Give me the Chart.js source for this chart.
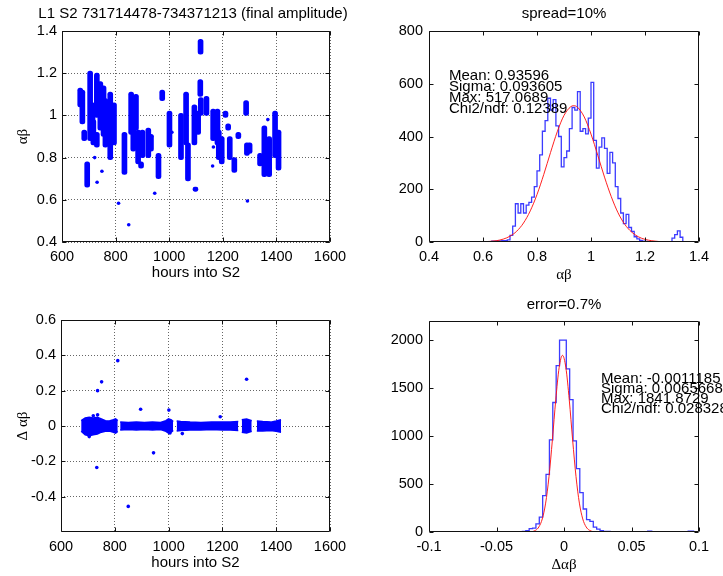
<!DOCTYPE html>
<html><head><meta charset="utf-8">
<script src="https://cdn.jsdelivr.net/npm/chart.js@4.4.0/dist/chart.umd.min.js"></script>
<style>
html,body{margin:0;padding:0;background:#fff;}
#wrap{position:relative;width:723px;height:576px;overflow:hidden;background:#fff;}
canvas{position:absolute;}
</style></head><body>
<div id="wrap">
<canvas id="tl" width="361" height="290" style="left:0px;top:0px"></canvas>
<canvas id="tr" width="362" height="290" style="left:361px;top:0px"></canvas>
<canvas id="bl" width="361" height="286" style="left:0px;top:290px"></canvas>
<canvas id="br" width="362" height="286" style="left:361px;top:290px"></canvas>
</div>
<script>
// ---------------- DATA ----------------
const tlTitle = 'L1 S2 731714478-734371213 (final amplitude)';
const trTitle = 'spread=10%';
const brTitle = 'error=0.7%';
const hoursLabel = 'hours into S2';

// top-left: vertical clusters of points (hours, low, high)
const tlStreakX  = [668, 676, 683, 694, 705, 714, 717, 730, 730, 743, 755, 762, 780, 794, 833, 858, 866, 876, 884, 900, 895, 922, 932, 960, 974, 1001, 1044, 1063, 1070, 1094, 1098, 1117, 1116, 1118, 1108, 1139, 1164, 1180, 1185, 1196, 1210, 1220, 1226, 1243, 1258, 1287, 1290, 1300, 1339, 1355, 1373, 1395, 1408];
const tlStreakLo = [1.04, 0.96, 0.88, 0.66, 0.88, 0.93, 0.86, 0.99, 0.85, 0.93, 0.90, 0.85, 0.79, 0.86, 0.72, 0.91, 0.83, 0.93, 0.77, 0.80, 0.75, 0.80, 0.83, 0.70, 1.07, 0.85, 0.79, 0.86, 0.69, 0.86, 0.64, 1.29, 1.09, 1.00, 0.91, 1.00, 0.88, 0.86, 0.79, 0.77, 0.99, 0.93, 0.79, 0.73, 0.89, 1.00, 0.81, 0.82, 0.76, 0.71, 0.71, 0.80, 0.74];
const tlStreakHi = [1.13, 1.12, 0.93, 0.78, 1.21, 1.06, 0.98, 1.20, 0.92, 1.16, 1.14, 1.08, 1.11, 1.06, 0.92, 1.11, 0.99, 1.10, 0.93, 0.93, 0.78, 0.94, 0.91, 0.82, 1.12, 1.02, 1.01, 1.11, 0.87, 1.05, 0.66, 1.36, 1.17, 1.085, 1.02, 1.09, 1.03, 1.03, 0.93, 0.90, 1.02, 0.96, 0.90, 0.80, 0.92, 1.07, 0.87, 0.87, 0.82, 0.95, 0.90, 1.02, 0.93];
// top-left: isolated points
const tlDotX = [811, 849, 946, 722, 731, 749, 762, 1292, 1368, 1162, 935, 1010, 1165, 1258];
const tlDotY = [0.584, 0.482, 0.631, 0.80, 0.683, 0.735, 0.86, 0.594, 0.98, 0.76, 0.90, 0.92, 0.85, 0.91];

// top-right: histogram (bin left edges, counts) and fitted curve
const trEdges  = [0.63,0.64,0.65,0.66,0.67,0.68,0.69,0.70,0.71,0.72,0.73,0.74,0.75,0.76,0.77,0.78,0.79,0.80,0.81,0.82,0.83,0.84,0.85,0.86,0.87,0.88,0.89,0.90,0.91,0.92,0.93,0.94,0.95,0.96,0.97,0.98,0.99,1.00,1.01,1.02,1.03,1.04,1.05,1.06,1.07,1.08,1.09,1.10,1.11,1.12,1.13,1.14,1.15,1.16,1.17,1.18,1.19,1.20,1.21,1.30,1.31,1.32,1.33,1.34];
const trCounts = [3,3,4,4,5,5,8,25,60,145,110,145,110,140,150,170,210,270,330,420,460,545,500,540,440,400,285,320,345,430,510,500,570,420,430,410,470,605,385,280,360,395,355,260,340,300,210,165,110,70,105,55,40,20,12,6,3,2,0,15,28,42,18,0];
const trFitX = [0.48, 0.55, 0.60, 0.65, 0.675, 0.70, 0.725, 0.75, 0.775, 0.80, 0.825, 0.85, 0.875, 0.90, 0.925, 0.936, 0.95, 0.975, 1.00, 1.025, 1.05, 1.075, 1.10, 1.125, 1.15, 1.175, 1.20, 1.25, 1.30];
const trFitY = [0, 0.3, 1, 5, 11, 22, 41, 72, 118, 180, 256, 339, 418, 480, 513, 517, 511, 474, 409, 329, 246, 172, 111, 67, 38, 20, 10, 2, 0];
const trStats = ['Mean: 0.93596', 'Sigma: 0.093605', 'Max: 517.0689', 'Chi2/ndf: 0.12389'];

// bottom-left: dense band around zero (edges), gaps marked with null, plus outliers
const blBandX  = [675, 690, 705, 720, 735, 750, 765, 780, 795, 803, 811, 814, 820, 850, 880, 910, 940, 970, 990, 1000, 1010, 1017, 1023, 1030, 1045, 1080, 1120, 1160, 1200, 1230, 1259, 1265, 1272, 1290, 1309, 1318, 1328, 1350, 1380, 1400, 1418];
const blBandHi = [0.03, 0.045, 0.05, 0.045, 0.05, 0.04, 0.03, 0.028, 0.035, 0.04, 0.03, null, 0.022, 0.02, 0.022, 0.02, 0.022, 0.02, 0.03, 0.04, 0.035, 0.025, null, 0.028, 0.025, 0.022, 0.02, 0.022, 0.022, 0.022, 0.025, null, 0.035, 0.04, 0.03, null, 0.028, 0.025, 0.022, 0.028, 0.035];
const blBandLo = [-0.03, -0.05, -0.055, -0.05, -0.045, -0.035, -0.03, -0.028, -0.035, -0.04, -0.03, null, -0.022, -0.02, -0.022, -0.02, -0.022, -0.02, -0.03, -0.04, -0.035, -0.025, null, -0.028, -0.025, -0.022, -0.022, -0.02, -0.022, -0.022, -0.025, null, -0.035, -0.04, -0.03, null, -0.028, -0.028, -0.025, -0.03, -0.035];
const blDotX = [736, 751, 811, 733, 850, 896, 944, 1001, 1192, 1290, 736, 1051, 705, 720, 1005];
const blDotY = [0.2, 0.25, 0.37, -0.235, -0.455, 0.095, -0.152, 0.09, 0.052, 0.265, 0.063, -0.043, -0.06, 0.058, -0.04];

// bottom-right: histogram (bin left edges, counts) and fitted curve
const brEdges  = [-0.0358, -0.0308, -0.0283, -0.0258, -0.0233, -0.0208, -0.0183, -0.0158, -0.0133, -0.0108, -0.0083, -0.0058, -0.0033, -0.0008, 0.0017, 0.0042, 0.0067, 0.0092, 0.0117, 0.0142, 0.0167, 0.0192, 0.0217, 0.0242, 0.0267, 0.0292, 0.0342, 0.0620, 0.0650, 0.0920, 0.0960];
const brCounts = [2, 6, 15, 35, 40, 85, 155, 380, 600, 960, 1350, 1735, 2000, 2000, 1700, 1380, 950, 660, 410, 240, 130, 110, 50, 30, 15, 5, 0, 8, 0, 10, 0];
const brFitX = [-0.058, -0.031, -0.026, -0.021, -0.0186, -0.0161, -0.0136, -0.0111, -0.0086, -0.0061, -0.0036, -0.0011, 0.0014, 0.0039, 0.0064, 0.0089, 0.0114, 0.0139, 0.0164, 0.0189, 0.0239, 0.0289, 0.054];
const brFitY = [0, 0, 1, 18, 53, 136, 301, 578, 960, 1378, 1713, 1842, 1713, 1378, 960, 578, 301, 136, 53, 18, 1, 0, 0];
const brStats = ['Mean: -0.0011185', 'Sigma: 0.0065668', 'Max: 1841.8729', 'Chi2/ndf: 0.028328'];

// tick values and labels
const hoursTicks = [600, 800, 1000, 1200, 1400, 1600];
const hoursTickLabels = ['600', '800', '1000', '1200', '1400', '1600'];
const tlYTicks = [0.4, 0.6, 0.8, 1.0, 1.2, 1.4];
const tlYTickLabels = ['0.4', '0.6', '0.8', '1', '1.2', '1.4'];
const trXTicks = [0.4, 0.6, 0.8, 1.0, 1.2, 1.4];
const trXTickLabels = ['0.4', '0.6', '0.8', '1', '1.2', '1.4'];
const trYTicks = [0, 200, 400, 600, 800];
const trYTickLabels = ['0', '200', '400', '600', '800'];
const blYTicks = [-0.4, -0.2, 0, 0.2, 0.4, 0.6];
const blYTickLabels = ['-0.4', '-0.2', '0', '0.2', '0.4', '0.6'];
const brXTicks = [-0.1, -0.05, 0, 0.05, 0.1];
const brXTickLabels = ['-0.1', '-0.05', '0', '0.05', '0.1'];
const brYTicks = [0, 500, 1000, 1500, 2000];
const brYTickLabels = ['0', '500', '1000', '1500', '2000'];

// ---------------- RENDERING ----------------
const SANS = "'Liberation Sans', Arial, Helvetica, sans-serif";
const SERIF = "'Liberation Serif', 'DejaVu Serif', 'Times New Roman', serif";
Chart.defaults.font.family = SANS;
Chart.defaults.color = '#000';
Chart.defaults.animation = false;

const BLUE = '#0000ff';
const HBLUE = 'rgba(25,25,255,0.85)';
const RED = 'rgba(255,20,20,0.95)';

function pts(xs, ys) { return xs.map((x, i) => ({x: x, y: ys[i]})); }

function axis(o) {
  return {
    type: 'linear', min: o.min, max: o.max, offset: false, beginAtZero: false,
    afterBuildTicks: s => { s.ticks = o.ticks.map(v => ({value: v})); },
    afterFit: s => { if (o.isY) s.width = o.size; else s.height = o.size; },
    ticks: { callback: (v, i) => o.labels[i], font: {size: 14.5, family: SANS}, color: '#000',
             padding: o.tickPad, autoSkip: false, maxRotation: 0, minRotation: 0 },
    grid: { display: !!o.grid, drawTicks: false, color: 'rgba(0,0,0,0.6)', lineWidth: 1, offset: false },
    border: { display: false, dash: [1, 2] },
    title: o.title ? { display: true, text: o.title, font: o.titleFont, color: '#000', padding: o.titlePad } : { display: false }
  };
}

// frame (box + inward ticks), panel title and fit-statistics text
const framePlugin = {
  id: 'frame',
  afterDraw(chart, args, o) {
    const ctx = chart.ctx, a = chart.chartArea, x = chart.scales.x, y = chart.scales.y;
    ctx.save();
    ctx.strokeStyle = '#111'; ctx.lineWidth = 1;
    const L = Math.round(a.left) + 0.5, R = Math.round(a.right) - 0.5;
    const T = Math.round(a.top) + 0.5, B = Math.round(a.bottom) - 0.5;
    ctx.beginPath();
    x.ticks.forEach(t => { const p = Math.round(x.getPixelForValue(t.value)) + 0.5;
      ctx.moveTo(p, B); ctx.lineTo(p, B - 4); ctx.moveTo(p, T); ctx.lineTo(p, T + 4); });
    y.ticks.forEach(t => { const p = Math.round(y.getPixelForValue(t.value)) + 0.5;
      ctx.moveTo(L, p); ctx.lineTo(L + 4, p); ctx.moveTo(R, p); ctx.lineTo(R - 4, p); });
    ctx.rect(L, T, R - L, B - T);
    ctx.stroke();
    ctx.fillStyle = '#000';
    if (o && o.title) {
      ctx.font = '15px ' + SANS;
      ctx.textBaseline = 'middle';
      ctx.textAlign = 'center';
      ctx.fillText(o.title, (a.left + a.right) / 2 + (o.titleShift || 0), o.titleY);
    }
    if (o && o.lines) {
      ctx.font = '15px ' + SANS;
      ctx.textBaseline = 'middle';
      ctx.textAlign = 'left';
      o.lines.forEach((s, i) => ctx.fillText(s, o.x, o.y + i * o.dy));
    }
    ctx.restore();
  }
};

// Top-left scatter
new Chart(document.getElementById('tl'), {
  type: 'bar',
  data: { datasets: [
    { type: 'scatter', data: pts(tlDotX, tlDotY), backgroundColor: BLUE, borderColor: BLUE, pointRadius: 1.8, pointBorderWidth: 0 },
    { type: 'bar', data: tlStreakX.map((x, i) => ({x: x, y: [tlStreakLo[i], tlStreakHi[i]]})),
      backgroundColor: BLUE, barThickness: 5, borderRadius: 2.5, borderSkipped: false, grouped: false }
  ]},
  options: {
    responsive: false, animation: false,
    layout: { padding: {left: 0, right: 31, top: 31, bottom: 0} },
    plugins: { legend: {display: false}, tooltip: {enabled: false}, title: {display: false},
               frame: {title: tlTitle, titleY: 14, titleShift: -3} },
    scales: {
      x: axis({min: 600, max: 1600, ticks: hoursTicks, labels: hoursTickLabels, size: 48, grid: true, tickPad: 6,
               title: hoursLabel, titleFont: {size: 15, family: SANS}, titlePad: {bottom: 8}}),
      y: axis({isY: true, min: 0.4, max: 1.4, ticks: tlYTicks, labels: tlYTickLabels, size: 62, grid: true, tickPad: 5,
               title: 'αβ', titleFont: {size: 15, family: SERIF}, titlePad: {top: 14}})
    }
  },
  plugins: [framePlugin]
});

// Top-right histogram
new Chart(document.getElementById('tr'), {
  type: 'scatter',
  data: { datasets: [
    { type: 'line', data: pts(trFitX, trFitY), borderColor: RED, borderWidth: 1, pointRadius: 0, cubicInterpolationMode: 'monotone', fill: false },
    { type: 'line', data: pts(trEdges, trCounts), borderColor: HBLUE, borderWidth: 1.3, pointRadius: 0, stepped: true, fill: false }
  ]},
  options: {
    responsive: false, animation: false,
    layout: { padding: {left: 0, right: 24, top: 31, bottom: 0} },
    plugins: { legend: {display: false}, tooltip: {enabled: false}, title: {display: false},
               frame: {title: trTitle, titleY: 14, lines: trStats, x: 88, y: 76, dy: 11} },
    scales: {
      x: axis({min: 0.4, max: 1.4, ticks: trXTicks, labels: trXTickLabels, size: 48, grid: false, tickPad: 6,
               title: 'αβ', titleFont: {size: 15, family: SERIF}, titlePad: {bottom: 6}}),
      y: axis({isY: true, min: 0, max: 800, ticks: trYTicks, labels: trYTickLabels, size: 68, grid: false, tickPad: 6})
    }
  },
  plugins: [framePlugin]
});

// Bottom-left scatter
new Chart(document.getElementById('bl'), {
  type: 'scatter',
  data: { datasets: [
    { type: 'scatter', data: pts(blDotX, blDotY), backgroundColor: BLUE, borderColor: BLUE, pointRadius: 1.8, pointBorderWidth: 0 },
    { type: 'line', data: pts(blBandX, blBandHi), borderColor: BLUE, backgroundColor: BLUE, borderWidth: 1.5, pointRadius: 0, fill: '+1', spanGaps: false },
    { type: 'line', data: pts(blBandX, blBandLo), borderColor: BLUE, backgroundColor: BLUE, borderWidth: 1.5, pointRadius: 0, fill: false, spanGaps: false }
  ]},
  options: {
    responsive: false, animation: false,
    layout: { padding: {left: 0, right: 31, top: 30, bottom: 0} },
    plugins: { legend: {display: false}, tooltip: {enabled: false}, title: {display: false}, frame: {} },
    scales: {
      x: axis({min: 600, max: 1600, ticks: hoursTicks, labels: hoursTickLabels, size: 44, grid: true, tickPad: 6,
               title: hoursLabel, titleFont: {size: 15, family: SANS}, titlePad: {bottom: 4}}),
      y: axis({isY: true, min: -0.6, max: 0.6, ticks: blYTicks, labels: blYTickLabels, size: 61, grid: true, tickPad: 5,
               title: 'Δ αβ', titleFont: {size: 15, family: SERIF}, titlePad: {top: 14}})
    }
  },
  plugins: [framePlugin]
});

// Bottom-right histogram
new Chart(document.getElementById('br'), {
  type: 'scatter',
  data: { datasets: [
    { type: 'line', data: pts(brFitX, brFitY), borderColor: RED, borderWidth: 1, pointRadius: 0, cubicInterpolationMode: 'monotone', fill: false },
    { type: 'line', data: pts(brEdges, brCounts), borderColor: HBLUE, borderWidth: 1.3, pointRadius: 0, stepped: true, fill: false }
  ]},
  options: {
    responsive: false, animation: false,
    layout: { padding: {left: 0, right: 24, top: 31, bottom: 0} },
    plugins: { legend: {display: false}, tooltip: {enabled: false}, title: {display: false},
               frame: {title: brTitle, titleY: 15, lines: brStats, x: 240, y: 89, dy: 10} },
    scales: {
      x: axis({min: -0.1, max: 0.1, ticks: brXTicks, labels: brXTickLabels, size: 44, grid: false, tickPad: 6,
               title: 'Δαβ', titleFont: {size: 15, family: SERIF}, titlePad: {bottom: 2}}),
      y: axis({isY: true, min: 0, max: 2200, ticks: brYTicks, labels: brYTickLabels, size: 68, grid: false, tickPad: 6})
    }
  },
  plugins: [framePlugin]
});
</script>
</body></html>
